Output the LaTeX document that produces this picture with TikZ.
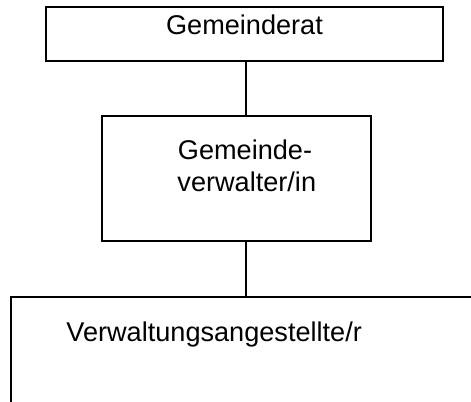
\documentclass[tikz,border=0pt]{standalone}
\usepackage{fontspec}
\setmainfont{Liberation Sans}
\begin{document}
\begin{tikzpicture}[x=0.4425pt,y=-0.4425pt,
  box/.style={draw=black,line width=0.8pt,inner sep=0pt,fill=white},
  txt/.style={inner sep=0pt,font=\fontsize{12}{14}\selectfont,text=black},
  conn/.style={draw=black,line width=0.8pt}]
\useasboundingbox (0,0) rectangle (471,402);
\clip (0,0) rectangle (471,402);
\fill[white] (0,0) rectangle (471,402);
\node[box,minimum width=397*0.4425pt,minimum height=54*0.4425pt] (rat) at (244.5,34) {};
\node[box,minimum width=269*0.4425pt,minimum height=125*0.4425pt] (mid) at (236.5,178.5) {};
\node[box,minimum width=490*0.4425pt,minimum height=150*0.4425pt] (low) at (256,372) {};
\node[txt,anchor=base] (tr) at (244.5,35) {Gemeinderat};
\node[txt,anchor=base west] (tm1) at (177.5,160) {Gemeinde-};
\node[txt,anchor=base west] (tm2) at (177,192) {verwalter/in};
\node[txt,anchor=base west] (tl) at (66,341) {Verwaltungsangestellte/r};
\coordinate (c1) at (245.7,61);
\draw[conn] (rat.south -| c1) -- (mid.north -| c1);
\draw[conn] (mid.south -| c1) -- (low.north -| c1);
\end{tikzpicture}
\end{document}
